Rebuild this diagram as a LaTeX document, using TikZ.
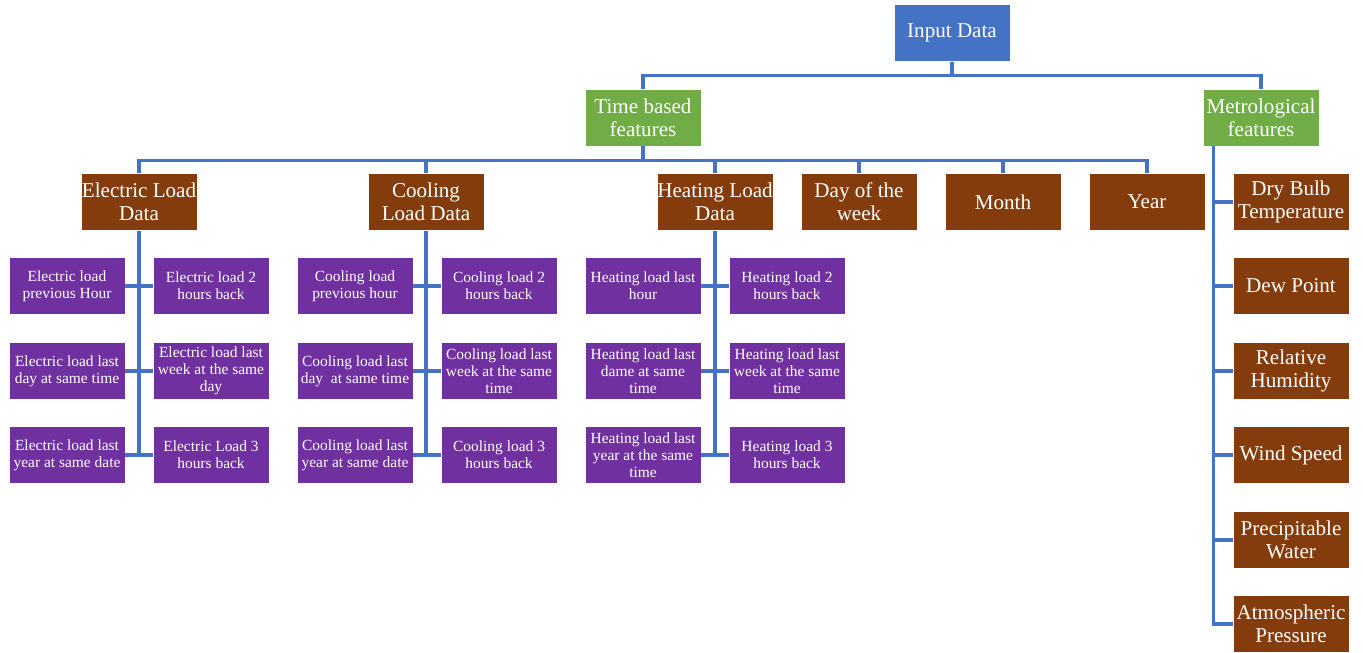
\documentclass[tikz,border=0pt]{standalone}
\usepackage{fontspec}
\setmainfont{Liberation Serif}
\usetikzlibrary{positioning}
\definecolor{inblue}{HTML}{4472C4}
\definecolor{featgreen}{HTML}{70AD47}
\definecolor{grpbrown}{HTML}{843C0C}
\definecolor{itempurple}{HTML}{7030A0}
\definecolor{linkblue}{HTML}{4472C4}
\begin{document}
\begin{tikzpicture}[x=0.025cm, y=-0.025cm,
	box/.style={draw=white, line width=0.4pt, text=white, align=center, minimum width=2.9cm, minimum height=1.425cm, inner sep=0pt},
	bigbox/.style={box, font=\fontsize{15}{16.5}\selectfont},
	smallbox/.style={box, fill=itempurple, font=\fontsize{11}{12}\selectfont},
	link/.style={draw=linkblue, line width=2.4pt}]
	\useasboundingbox (0,0) rectangle (1363,652);
	
	\node[bigbox, fill=inblue] (input) at (952, 33) {Input Data};%Wurzel
	\node[bigbox, fill=featgreen] (time) at (643, 117.5) {Time based\\features};
	\node[bigbox, fill=featgreen] (meteo) at (1261, 117.5) {Metrological\\features};
	
	%Zeitbasierte Gruppen
	\node[bigbox, fill=grpbrown] (elec) at (139, 202) {Electric Load\\Data};
	\node[bigbox, fill=grpbrown] (cool) at (426, 202) {Cooling\\Load Data};
	\node[bigbox, fill=grpbrown] (heat) at (715, 202) {Heating Load\\Data};
	\node[bigbox, fill=grpbrown] (day) at (859, 202) {Day of the\\week};
	\node[bigbox, fill=grpbrown] (month) at (1003, 202) {Month};
	\node[bigbox, fill=grpbrown] (year) at (1147, 202) {Year};
	
	%Wettergroessen
	\node[bigbox, fill=grpbrown] (dry) at (1291, 202) {Dry Bulb\\Temperature};
	\node[bigbox, fill=grpbrown] (dew) at (1291, 286) {Dew Point};
	\node[bigbox, fill=grpbrown] (hum) at (1291, 371) {Relative\\Humidity};
	\node[bigbox, fill=grpbrown] (wind) at (1291, 455) {Wind Speed};
	\node[bigbox, fill=grpbrown] (water) at (1291, 540) {Precipitable\\Water};
	\node[bigbox, fill=grpbrown] (press) at (1291, 624) {Atmospheric\\Pressure};
	
	%Strom
	\node[smallbox] (elecA) at (67, 286) {Electric load\\previous Hour};
	\node[smallbox] (elecB) at (211, 286) {Electric load 2\\hours back};
	\node[smallbox] (elecC) at (67, 371) {Electric load last\\day at same time};
	\node[smallbox] (elecD) at (211, 371) {Electric load last\\week at the same\\day};
	\node[smallbox] (elecE) at (67, 455) {Electric load last\\year at same date};
	\node[smallbox] (elecF) at (211, 455) {Electric Load 3\\hours back};
	
	%Kuehlung
	\node[smallbox] (coolA) at (355, 286) {Cooling load\\previous hour};
	\node[smallbox] (coolB) at (499, 286) {Cooling load 2\\hours back};
	\node[smallbox] (coolC) at (355, 371) {Cooling load last\\day\ \ at same time};
	\node[smallbox] (coolD) at (499, 371) {Cooling load last\\week at the same\\time};
	\node[smallbox] (coolE) at (355, 455) {Cooling load last\\year at same date};
	\node[smallbox] (coolF) at (499, 455) {Cooling load 3\\hours back};
	
	%Heizung
	\node[smallbox] (heatA) at (643, 286) {Heating load last\\hour};
	\node[smallbox] (heatB) at (787, 286) {Heating load 2\\hours back};
	\node[smallbox] (heatC) at (643, 371) {Heating load last\\dame at same\\time};
	\node[smallbox] (heatD) at (787, 371) {Heating load last\\week at the same\\time};
	\node[smallbox] (heatE) at (643, 455) {Heating load last\\year at the same\\time};
	\node[smallbox] (heatF) at (787, 455) {Heating load 3\\hours back};
	
	\draw[link] (input.south) -- ++(0, 14) -| (time.north);
	\draw[link] (input.south) -- ++(0, 14) -| (meteo.north);
	
	\draw[link] (time.south) -- ++(0, 14) -| (elec.north);
	\draw[link] (time.south) -- ++(0, 14) -| (cool.north);
	\draw[link] (time.south) -- ++(0, 14) -| (heat.north);
	\draw[link] (time.south) -- ++(0, 14) -| (day.north);
	\draw[link] (time.south) -- ++(0, 14) -| (month.north);
	\draw[link] (time.south) -- ++(0, 14) -| (year.north);
	
	\coordinate (mtrunk) at ([xshift=0.275cm]meteo.south west);%Stamm rechts
	\draw[link] (mtrunk) |- (dry.west);
	\draw[link] (mtrunk) |- (dew.west);
	\draw[link] (mtrunk) |- (hum.west);
	\draw[link] (mtrunk) |- (wind.west);
	\draw[link] (mtrunk) |- (water.west);
	\draw[link] (mtrunk) |- (press.west);
	
	\draw[link] (elec.south) -- (elec.south |- elecE.east);
	\draw[link] (elecA.east) -- (elecB.west);
	\draw[link] (elecC.east) -- (elecD.west);
	\draw[link] (elecE.east) -- (elecF.west);
	
	\draw[link] (cool.south) -- (cool.south |- coolE.east);
	\draw[link] (coolA.east) -- (coolB.west);
	\draw[link] (coolC.east) -- (coolD.west);
	\draw[link] (coolE.east) -- (coolF.west);
	
	\draw[link] (heat.south) -- (heat.south |- heatE.east);
	\draw[link] (heatA.east) -- (heatB.west);
	\draw[link] (heatC.east) -- (heatD.west);
	\draw[link] (heatE.east) -- (heatF.west);
	
\end{tikzpicture}
\end{document}
